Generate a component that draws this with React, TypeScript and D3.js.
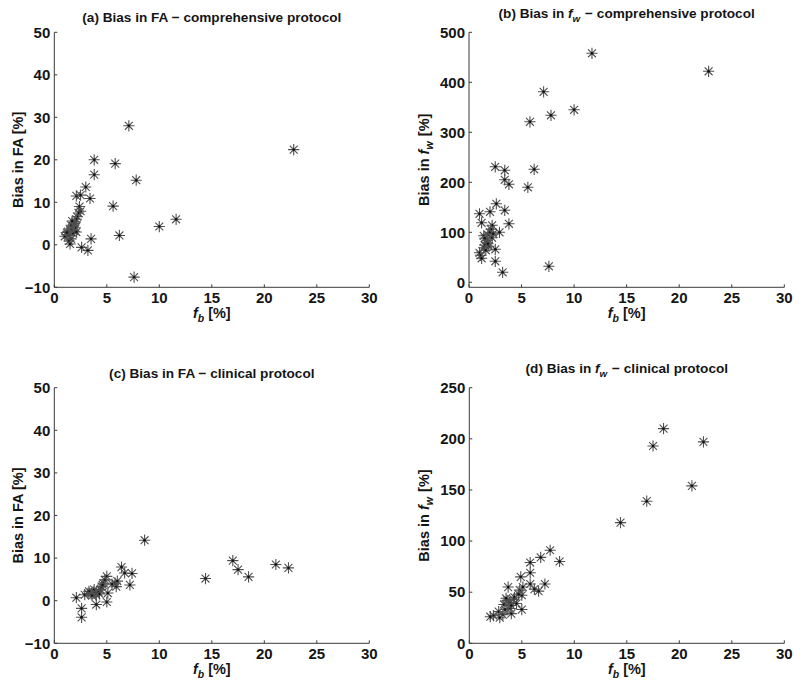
import React from 'react';
import * as d3 from 'd3';

const W = 800;
const H = 689;

// f_b [%] vs bias values
const pointsA: [number, number][] = [
  [7.1, 28.0], [22.8, 22.4], [3.8, 20.0], [5.8, 19.1], [3.8, 16.5], [7.8, 15.2], [3.0, 13.6],
  [2.1, 11.5], [2.5, 11.7], [3.4, 10.9], [5.6, 9.1], [11.6, 6.0], [10.0, 4.3], [6.2, 2.2],
  [3.5, 1.4], [2.6, -0.6], [3.2, -1.3], [7.6, -7.6], [2.4, 9.0], [2.5, 7.9], [2.3, 7.5],
  [2.2, 6.6], [2.1, 6.0], [2.0, 5.4], [1.9, 5.0], [1.8, 4.4], [2.0, 4.0], [1.6, 4.6],
  [1.5, 3.5], [1.7, 3.7], [1.9, 3.2], [1.3, 3.1], [1.2, 2.4], [1.0, 2.0], [1.4, 2.2],
  [1.8, 2.7], [1.6, 1.4], [1.4, 0.9], [1.5, 0.2], [2.1, 3.0], [1.7, 5.6], [1.2, 2.9],
];
const pointsB: [number, number][] = [
  [11.7, 458], [22.8, 422], [7.1, 381], [10.0, 345], [7.8, 334], [5.8, 321], [2.5, 231],
  [3.4, 224], [6.2, 226], [3.4, 205], [3.8, 196], [5.6, 190], [2.6, 157], [2.0, 141],
  [1.0, 137], [3.4, 144], [1.2, 119], [3.8, 117], [2.2, 114], [2.1, 106], [1.4, 93],
  [2.9, 100], [1.8, 95], [2.2, 89], [1.7, 84], [1.7, 79], [1.5, 74], [1.9, 72], [1.4, 69],
  [2.5, 66], [1.6, 64], [1.0, 59], [1.1, 54], [1.2, 48], [2.5, 42], [3.2, 20], [7.6, 32],
  [2.0, 100], [1.5, 88], [1.8, 77], [2.3, 97],
];
const pointsC: [number, number][] = [
  [8.6, 14.2], [17.0, 9.4], [17.5, 7.3], [18.5, 5.6], [14.4, 5.2], [21.1, 8.5], [22.3, 7.7],
  [6.4, 7.9], [6.7, 6.5], [7.4, 6.4], [7.2, 3.7], [5.8, 4.1], [5.9, 3.3], [5.0, 5.7],
  [4.8, 4.9], [4.7, 4.1], [5.0, -0.3], [4.0, -0.9], [2.1, 0.7], [2.6, -1.8], [2.6, -3.9],
  [4.4, 2.6], [3.7, 2.1], [3.2, 1.7], [2.9, 1.4], [3.5, 1.6], [4.0, 1.3], [4.5, 3.3],
  [5.1, 1.8], [3.8, 2.6], [3.3, 2.2], [4.2, 2.0], [5.5, 3.9], [6.0, 4.6], [4.6, 3.7],
  [3.9, 1.8], [3.6, 1.2], [4.3, 1.6],
];
const pointsD: [number, number][] = [
  [18.5, 210], [17.5, 193], [22.3, 197], [21.2, 154], [16.9, 139], [14.4, 118], [7.7, 91],
  [6.8, 84], [8.6, 80], [5.8, 79], [5.8, 69], [4.9, 65], [3.7, 55], [5.8, 58], [7.2, 58],
  [6.6, 51], [4.8, 52], [5.0, 47], [4.2, 43], [3.6, 42], [4.5, 39], [3.3, 38], [3.9, 34],
  [5.0, 33], [2.8, 31], [2.3, 27], [3.2, 28], [4.0, 29], [2.0, 26], [2.9, 25], [3.8, 40],
  [4.3, 45], [4.7, 48], [3.5, 44], [4.0, 37], [3.4, 33], [6.2, 53], [5.1, 55],
];

const xTicks = [0, 5, 10, 15, 20, 25, 30];
const faTicks = [-10, 0, 10, 20, 30, 40, 50];
const fwCompTicks = [0, 100, 200, 300, 400, 500];
const fwClinTicks = [0, 50, 100, 150, 200, 250];

const FONT = '"Liberation Sans", Arial, Helvetica, sans-serif';
const AXIS = '#3a3a3a';
const TXT = '#151515';

type Panel = {
  key: string;
  letter: string;
  quantity: 'FA' | 'fw';
  protocol: string;
  points: [number, number][];
  yDomain: [number, number];
  yTicks: number[];
  left: number;
  right: number;
  top: number;
  bottom: number;
  titleY: number;
  yLabelX: number;
};

const panels: Panel[] = [
  { key: 'a', letter: '(a)', quantity: 'FA', protocol: 'comprehensive protocol', points: pointsA,
    yDomain: [-10, 50], yTicks: faTicks, left: 54.3, right: 369.3, top: 32.3, bottom: 287.3, titleY: 21.5, yLabelX: 23 },
  { key: 'b', letter: '(b)', quantity: 'fw', protocol: 'comprehensive protocol', points: pointsB,
    yDomain: [-10, 500], yTicks: fwCompTicks, left: 469, right: 784.3, top: 32.3, bottom: 287.3, titleY: 17.5, yLabelX: 429 },
  { key: 'c', letter: '(c)', quantity: 'FA', protocol: 'clinical protocol', points: pointsC,
    yDomain: [-10, 50], yTicks: faTicks, left: 54.3, right: 369.3, top: 387.7, bottom: 643.3, titleY: 378, yLabelX: 23 },
  { key: 'd', letter: '(d)', quantity: 'fw', protocol: 'clinical protocol', points: pointsD,
    yDomain: [0, 250], yTicks: fwClinTicks, left: 469.3, right: 784.3, top: 387.7, bottom: 643.3, titleY: 372.5, yLabelX: 429 },
];

const R = 5.6;
const starPath = (() => {
  const p = d3.path();
  for (let i = 0; i < 4; i++) {
    const a = (i * Math.PI) / 4;
    p.moveTo(-R * Math.cos(a), -R * Math.sin(a));
    p.lineTo(R * Math.cos(a), R * Math.sin(a));
  }
  return p.toString();
})();

const fmt = (v: number) => (v < 0 ? '\u2212' + Math.abs(v) : String(v));

function Quantity({ q }: { q: 'FA' | 'fw' }) {
  if (q === 'FA') return <tspan>FA</tspan>;
  return (
    <>
      <tspan fontStyle="italic">f</tspan>
      <tspan fontStyle="italic" fontSize="0.72em" dy={4}>w</tspan>
      <tspan dy={-4}>{'\u200A'}</tspan>
    </>
  );
}

function PanelView({ p }: { p: Panel }) {
  const x = d3.scaleLinear().domain([0, 30]).range([p.left, p.right]);
  const y = d3.scaleLinear().domain(p.yDomain).range([p.bottom, p.top]);
  const cx = (p.left + p.right) / 2;
  const cy = (p.top + p.bottom) / 2;
  const tick = 3;
  const tickFs = 15;
  return (
    <g>
      <text x={cx} y={p.titleY} textAnchor="middle" fontFamily={FONT} fontWeight="bold" fontSize={13.6} fill={TXT}>
        <tspan>{p.letter} Bias in </tspan>
        <Quantity q={p.quantity} />
        <tspan>{' \u2212 ' + p.protocol}</tspan>
      </text>
      <line x1={p.left} x2={p.right} y1={p.bottom} y2={p.bottom} stroke={AXIS} strokeWidth={1} />
      <line x1={p.left} x2={p.left} y1={p.top} y2={p.bottom} stroke={AXIS} strokeWidth={1} />
      {xTicks.map((t) => (
        <g key={'x' + t}>
          <line x1={x(t)} x2={x(t)} y1={p.bottom} y2={p.bottom - tick} stroke={AXIS} />
          <text x={x(t)} y={p.bottom + 15.5} textAnchor="middle" fontFamily={FONT} fontWeight="bold" fontSize={tickFs} fill={TXT}>
            {fmt(t)}
          </text>
        </g>
      ))}
      {p.yTicks.map((t) => (
        <g key={'y' + t}>
          <line x1={p.left} x2={p.left + tick} y1={y(t)} y2={y(t)} stroke={AXIS} />
          <text x={p.left - 4} y={y(t) + 5.3} textAnchor="end" fontFamily={FONT} fontWeight="bold" fontSize={tickFs} fill={TXT}>
            {fmt(t)}
          </text>
        </g>
      ))}
      <text x={cx} y={p.bottom + 30.5} textAnchor="middle" fontFamily={FONT} fontWeight="bold" fontSize={14.5} fill={TXT}>
        <tspan fontStyle="italic">f</tspan>
        <tspan fontStyle="italic" fontSize="0.72em" dy={4}>b</tspan>
        <tspan dy={-4}>{' [%]'}</tspan>
      </text>
      <text transform={`translate(${p.yLabelX},${cy}) rotate(-90)`} textAnchor="middle" fontFamily={FONT}
        fontWeight="bold" fontSize={14.5} fill={TXT}>
        <tspan>Bias in </tspan>
        <Quantity q={p.quantity} />
        <tspan>{' [%]'}</tspan>
      </text>
      {p.points.map(([fb, b], i) => (
        <g key={i} transform={`translate(${x(fb)},${y(b)})`}>
          <path d={starPath} stroke="#505050" strokeWidth={1.1} fill="none" />
          <circle r={1.2} fill="#111" />
        </g>
      ))}
    </g>
  );
}

export default function App() {
  return (
    <svg width={W} height={H} viewBox={`0 0 ${W} ${H}`} style={{ position: 'absolute', left: 0, top: 0, background: '#fff' }}>
      <rect width={W} height={H} fill="#fff" />
      {panels.map((p) => (
        <PanelView key={p.key} p={p} />
      ))}
    </svg>
  );
}
